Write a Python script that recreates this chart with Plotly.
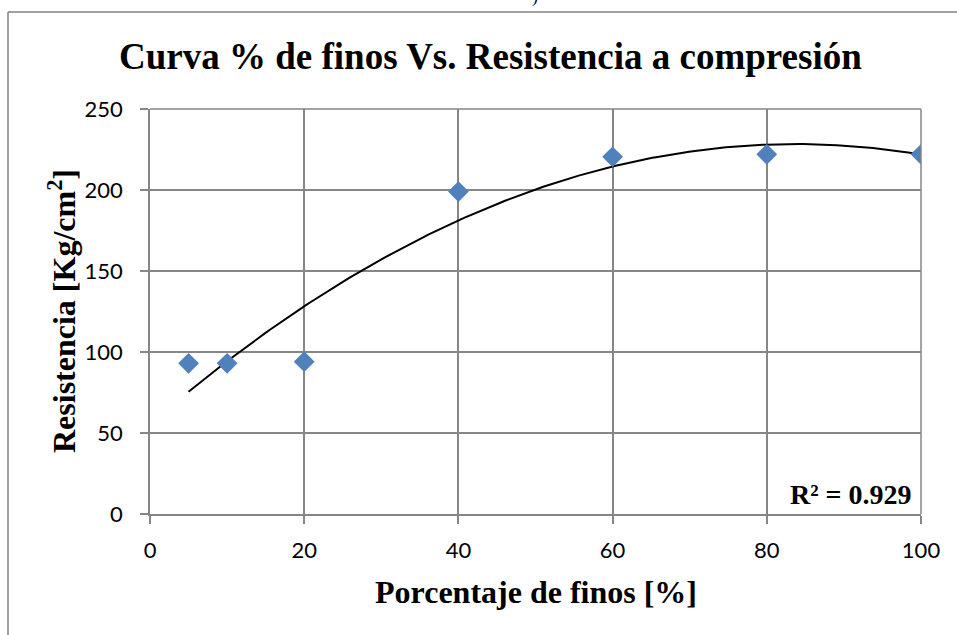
import numpy as np
import plotly.graph_objects as go

finos = [5, 10, 20, 40, 60, 80, 100]
resistencia = [93, 93, 94, 199, 220.5, 222, 222]
x_ticks = [0, 20, 40, 60, 80, 100]
y_ticks = [0, 50, 100, 150, 200, 250]
r2_text = "R² = 0.929"

coef = np.polyfit(finos, resistencia, 2)
xt = np.linspace(min(finos), max(finos), 200)
yt = np.polyval(coef, xt)

W, H = 957, 635
L, R, T, B = 150, 36, 109, 121
pw, ph = W - L - R, H - T - B

def px(xp):
    return (xp - L) / pw

def py(yp):
    return (H - B - yp) / ph

grid_col = "#868686"
serif = "Liberation Serif, Times New Roman, serif"
tickfont = dict(family="Lato, Open Sans, sans-serif", size=22, color="#000000")

fig = go.Figure()
fig.add_trace(go.Scatter(x=xt, y=yt, mode="lines",
                         line=dict(color="#000000", width=2), hoverinfo="skip",
                         showlegend=False))
fig.add_trace(go.Scatter(x=finos, y=resistencia, mode="markers",
                         marker=dict(symbol="diamond", size=16, color="#4F81BD",
                                     line=dict(width=0)),
                         showlegend=False))

fig.update_layout(
    width=W, height=H,
    margin=dict(l=L, r=R, t=T, b=B),
    paper_bgcolor="white", plot_bgcolor="white",
    showlegend=False,
    xaxis=dict(range=[0, 100], tickvals=x_ticks, ticks="outside", ticklen=8,
               tickwidth=1.5, tickcolor=grid_col, showgrid=True, gridcolor=grid_col,
               gridwidth=1.5, showline=True, linecolor=grid_col, linewidth=1.5,
               zeroline=False, tickfont=tickfont, ticklabelstandoff=8),
    yaxis=dict(range=[0, 250], tickvals=y_ticks, ticks="outside", ticklen=8,
               tickwidth=1.5, tickcolor=grid_col, showgrid=True, gridcolor=grid_col,
               gridwidth=1.5, showline=True, linecolor=grid_col, linewidth=1.5,
               zeroline=False, tickfont=tickfont, ticklabelstandoff=13),
)

# top and right border of plot area
fig.add_shape(type="line", xref="paper", yref="paper", x0=0, x1=1, y0=1, y1=1,
              line=dict(color=grid_col, width=1.5))
fig.add_shape(type="line", xref="paper", yref="paper", x0=1, x1=1, y0=0, y1=1,
              line=dict(color=grid_col, width=1.5))

# outer frame (top and left)
fig.add_shape(type="line", xref="paper", yref="paper", x0=px(8), x1=px(960),
              y0=py(12), y1=py(12), line=dict(color="#808080", width=1.5))
fig.add_shape(type="line", xref="paper", yref="paper", x0=px(8), x1=px(8),
              y0=py(12), y1=py(640), line=dict(color="#808080", width=1.5))

fig.add_annotation(text="<b>Curva % de finos Vs. Resistencia a compresión</b>",
                   xref="paper", yref="paper", x=px(490), y=py(57),
                   xanchor="center", yanchor="middle", showarrow=False,
                   font=dict(family=serif, size=37, color="#000000"))

fig.add_annotation(text="<b>Porcentaje de finos [%]</b>",
                   xref="paper", yref="paper", x=px(536), y=py(592),
                   xanchor="center", yanchor="middle", showarrow=False,
                   font=dict(family=serif, size=32, color="#000000"))

fig.add_annotation(text="<b>Resistencia [Kg/cm<sup>2</sup>]</b>",
                   xref="paper", yref="paper", x=px(62), y=py(311),
                   xanchor="center", yanchor="middle", showarrow=False,
                   textangle=-90,
                   font=dict(family=serif, size=32, color="#000000"))

fig.add_annotation(text="<b>" + r2_text + "</b>", xref="paper", yref="paper",
                   x=px(914), y=py(494), xanchor="right", yanchor="middle",
                   showarrow=False, font=dict(family=serif, size=28, color="#000000"))

fig.add_annotation(text=")", xref="paper", yref="paper", x=px(535), y=py(-4),
                   xanchor="center", yanchor="middle", showarrow=False,
                   font=dict(family=serif, size=18, color="#000000"))

fig.write_html("out.html", config={"displayModeBar": False},
               post_script="document.body.style.margin='0';")
